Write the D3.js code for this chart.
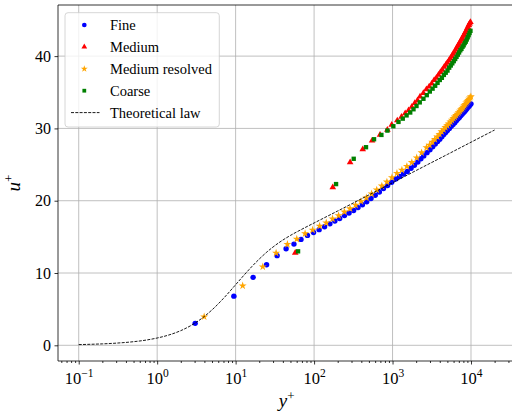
<!DOCTYPE html>
<html>
<head>
<meta charset="utf-8">
<script src="https://cdn.jsdelivr.net/npm/d3@7"></script>
<style>
body { margin: 0; background: #fff; }
svg { display: block; font-family: "Liberation Serif", "DejaVu Serif", serif; }
</style>
</head>
<body>
<script>
// y+ / u+ values
var fineY = [3.05, 9.5, 16.7, 24.8, 33.8, 44.0, 55.4, 68.1, 82.4, 98.4, 116, 136, 159, 184, 212, 244, 279, 319, 363, 413, 469, 531, 601, 679, 767, 865, 975, 1098, 1230, 1380, 1540, 1720, 1900, 2100, 2300, 2500, 2750, 3000, 3250, 3500, 3750, 4000, 4250, 4500, 4750, 5000, 5300, 5600, 5900, 6200, 6500, 6800, 7100, 7400, 7700, 8000, 8300, 8600, 8900, 9200, 9500, 9800, 10000];
var fineU = [3.04, 6.8, 9.4, 11.15, 12.4, 13.35, 14.0, 14.65, 15.2, 15.6, 16.0, 16.4, 16.8, 17.2, 17.55, 17.95, 18.3, 18.65, 19.05, 19.45, 19.85, 20.3, 20.75, 21.2, 21.7, 22.1, 22.55, 23.0, 23.35, 23.7, 24.05, 24.5, 24.9, 25.35, 25.8, 26.2, 26.65, 27.05, 27.45, 27.85, 28.2, 28.5, 28.85, 29.15, 29.45, 29.7, 30.0, 30.3, 30.55, 30.8, 31.05, 31.3, 31.5, 31.75, 31.95, 32.15, 32.35, 32.55, 32.75, 32.95, 33.1, 33.3, 33.4];

var mediumY = [57.5, 173, 288, 417, 548, 693, 859, 977, 1150, 1300, 1450, 1600, 1760, 1920, 2080, 2242, 2472, 2702, 2932, 3162, 3392, 3622, 3852, 4082, 4312, 4542, 4772, 5002, 5232, 5462, 5692, 5922, 6152, 6382, 6612, 6842, 7072, 7302, 7532, 7762, 7992, 8222, 8452, 8682, 8912, 9142, 9372, 9602, 9832];
var mediumU = [12.8, 21.85, 25.3, 27.1, 28.3, 29.1, 29.8, 30.5, 31.1, 31.6, 32.1, 32.5, 33.0, 33.5, 33.9, 34.4, 34.9, 35.4, 35.8, 36.2, 36.7, 37.0, 37.4, 37.8, 38.1, 38.5, 38.8, 39.1, 39.4, 39.7, 40.0, 40.3, 40.6, 40.9, 41.2, 41.5, 41.7, 42.0, 42.3, 42.5, 42.8, 43.0, 43.3, 43.5, 43.8, 44.0, 44.3, 44.5, 44.7];

var resolvedY = [3.97, 12.3, 22.2, 32.8, 45.7, 60.2, 76.8, 95.8, 117.7, 142.9, 171.9, 205.2, 243.5, 287.5, 338.1, 396.3, 463.3, 540.3, 628.9, 730.8, 847.8, 982.8, 1138, 1317, 1523, 1760, 2033, 2347, 2708, 2960, 3210, 3460, 3710, 3960, 4210, 4460, 4710, 4960, 5210, 5460, 5710, 5960, 6210, 6460, 6710, 6960, 7210, 7460, 7710, 7960, 8210, 8460, 8710, 8960, 9210, 9460, 9710, 9960];
var resolvedU = [3.96, 8.24, 10.87, 12.77, 13.97, 14.7, 15.45, 15.95, 16.5, 16.95, 17.5, 17.95, 18.45, 18.9, 19.4, 19.9, 20.4, 20.95, 21.5, 22.05, 22.6, 23.2, 23.8, 24.25, 24.75, 25.3, 25.95, 26.65, 27.35, 27.7, 28.1, 28.5, 28.85, 29.2, 29.55, 29.85, 30.15, 30.4, 30.65, 30.9, 31.15, 31.4, 31.6, 31.8, 32.0, 32.2, 32.4, 32.6, 32.75, 32.95, 33.15, 33.35, 33.55, 33.7, 33.9, 34.05, 34.25, 34.4];

var coarseY = [62.5, 190.6, 320, 459, 581, 721, 860, 1024, 1190, 1350, 1510, 1680, 1850, 2020, 2223, 2477, 2731, 2985, 3239, 3493, 3747, 4001, 4255, 4509, 4763, 5017, 5271, 5525, 5779, 6033, 6287, 6541, 6795, 7049, 7303, 7557, 7811, 8065, 8319, 8573, 8827, 9081, 9335, 9589, 9843];
var coarseU = [13.0, 22.3, 25.8, 27.4, 28.5, 29.1, 29.7, 30.3, 30.9, 31.35, 31.8, 32.2, 32.65, 33.1, 33.6, 34.1, 34.6, 35.1, 35.5, 35.9, 36.3, 36.7, 37.0, 37.4, 37.7, 38.0, 38.4, 38.7, 39.0, 39.3, 39.6, 39.9, 40.2, 40.5, 40.8, 41.0, 41.3, 41.5, 41.8, 42.0, 42.3, 42.6, 42.9, 43.2, 43.5];

var lawY = [0.1, 0.2, 0.3, 0.5, 0.7, 1, 1.5, 2, 3, 4, 5, 7, 10, 13, 16, 20, 25, 30, 40, 50, 70, 100, 150, 200, 300, 500, 700, 1000, 2000, 5000, 10000, 20000];
var lawU = [0.10, 0.20, 0.30, 0.50, 0.70, 1.01, 1.52, 2.03, 3.04, 4.00, 4.90, 6.49, 8.38, 9.79, 10.86, 11.93, 12.90, 13.60, 14.56, 15.20, 16.06, 16.92, 17.89, 18.58, 19.56, 20.80, 21.61, 22.48, 24.18, 26.40, 28.09, 29.78];

var xTicks = [0.1, 1, 10, 100, 1000, 10000];
var xTickExp = ["\u22121", "0", "1", "2", "3", "4"];
var yTicks = [0, 10, 20, 30, 40];
var legendLabels = ["Fine", "Medium", "Medium resolved", "Coarse", "Theoretical law"];

var w = 512, h = 419;
var plotL = 58, plotR = 515.4, plotT = 5, plotB = 361;

var svg = d3.select("body").
append("svg").
attr("width", w).
attr("height", h);

var xScale = d3.scaleLog().
domain([Math.pow(10, -1.264), Math.pow(10, 4.566)]).
range([plotL, plotR]);

var yScale = d3.scaleLinear().
domain([-2.17, 47.07]).
range([plotB, plotT]);

function pairs(xs, ys) {
	return xs.map(function (d, i) {return [d, ys[i]];});
}

// Grid
var grid = svg.append("g").attr("stroke", "#b0b0b0").attr("stroke-width", 0.8);
grid.selectAll(".vx").data(xTicks).enter().append("line").
attr("x1", function (d) {return xScale(d);}).
attr("x2", function (d) {return xScale(d);}).
attr("y1", plotT).attr("y2", plotB);
grid.selectAll(".hy").data(yTicks).enter().append("line").
attr("x1", plotL).attr("x2", plotR).
attr("y1", function (d) {return yScale(d);}).
attr("y2", function (d) {return yScale(d);});

// Axes
var xAxis = svg.append("g").
attr("transform", "translate(0," + plotB + ")").
call(d3.axisBottom(xScale).tickValues(xTicks).tickSize(3.5).tickPadding(3.5).tickFormat(""));

xAxis.selectAll(".tick text").each(function (d, i) {
	var t = d3.select(this).attr("font-size", 16.5).attr("dy", "0.95em");
	t.append("tspan").text("10");
	t.append("tspan").attr("dy", -6.5).attr("font-size", 11.5).text(xTickExp[i]);
});

var minor = xScale.ticks().filter(function (d) {
	return Math.abs(Math.log10(d) - Math.round(Math.log10(d))) > 1e-6;
});
svg.append("g").
attr("transform", "translate(0," + plotB + ")").
call(d3.axisBottom(xScale).tickValues(minor).tickSize(2).tickFormat(""));

var yAxis = svg.append("g").
attr("transform", "translate(" + plotL + ",0)").
call(d3.axisLeft(yScale).tickValues(yTicks).tickSize(3.5).tickPadding(3.5));
yAxis.selectAll(".tick text").attr("font-size", 16);

svg.selectAll(".domain").remove();
svg.selectAll(".tick line").attr("stroke", "#000").attr("stroke-width", 0.8);
svg.selectAll(".tick text").attr("font-family", "Liberation Serif, DejaVu Serif, serif").attr("fill", "#000");

// Markers
var markers = [
	{data: pairs(fineY, fineU), sym: d3.symbolCircle, size: 23, color: "#0000ff"},
	{data: pairs(mediumY, mediumU), sym: d3.symbolTriangle, size: 19, color: "#ff0000"},
	{data: pairs(resolvedY, resolvedU), sym: d3.symbolStar, size: 20, color: "#ffa500"},
	{data: pairs(coarseY, coarseU), sym: d3.symbolSquare, size: 19, color: "#008000"}
];

markers.forEach(function (m) {
	svg.append("g").selectAll("path").
	data(m.data).
	enter().
	append("path").
	attr("transform", function (d) {return "translate(" + xScale(d[0]) + "," + yScale(d[1]) + ")";}).
	attr("d", d3.symbol().type(m.sym).size(m.size)).
	attr("fill", m.color);
});

// Theoretical law
var line = d3.line().
x(function (d) {return xScale(d[0]);}).
y(function (d) {return yScale(d[1]);}).
curve(d3.curveMonotoneX);

svg.append("path").
datum(pairs(lawY, lawU)).
attr("d", line).
attr("fill", "none").
attr("stroke", "#000").
attr("stroke-width", 0.9).
attr("stroke-dasharray", "3,1.3");

// Spines
var spines = svg.append("g").attr("stroke", "#000").attr("stroke-width", 0.8);
spines.append("line").attr("x1", plotL).attr("x2", plotL).attr("y1", plotT).attr("y2", plotB);
spines.append("line").attr("x1", plotL).attr("x2", plotR).attr("y1", plotB).attr("y2", plotB);
spines.append("line").attr("x1", plotL).attr("x2", plotR).attr("y1", plotT).attr("y2", plotT);

// Axis labels
var xl = svg.append("text").
attr("x", (plotL + plotR) / 2).
attr("y", 407).
attr("text-anchor", "middle").
attr("font-size", 19);
xl.append("tspan").attr("font-style", "italic").text("y");
xl.append("tspan").attr("dy", -7.5).attr("font-size", 13).text("+");

var yl = svg.append("text").
attr("transform", "translate(20," + (plotT + plotB) / 2 + ") rotate(-90)").
attr("text-anchor", "middle").
attr("font-size", 19);
yl.append("tspan").attr("font-style", "italic").text("u");
yl.append("tspan").attr("dy", -7.5).attr("font-size", 13).text("+");

// Legend
var lg = svg.append("g");
lg.append("rect").
attr("x", 65).attr("y", 12.7).
attr("width", 154.3).attr("height", 114.3).
attr("rx", 3).
attr("fill", "#fff").attr("fill-opacity", 0.8).
attr("stroke", "#cccccc").attr("stroke-width", 0.8);

var rowY = function (i) {return 25 + i * 21.9;};
markers.forEach(function (m, i) {
	lg.append("path").
	attr("transform", "translate(84.3," + rowY(i) + ")").
	attr("d", d3.symbol().type(m.sym).size(m.size * 0.75)).
	attr("fill", m.color);
});
lg.append("line").
attr("x1", 71).attr("x2", 99.5).
attr("y1", rowY(4)).attr("y2", rowY(4)).
attr("stroke", "#000").attr("stroke-width", 0.9).
attr("stroke-dasharray", "3,1.3");

lg.selectAll(".lt").
data(legendLabels).
enter().
append("text").
attr("x", 110).
attr("y", function (d, i) {return rowY(i) + 5;}).
attr("font-size", 14.5).
text(function (d) {return d;});
</script>
</body>
</html>
